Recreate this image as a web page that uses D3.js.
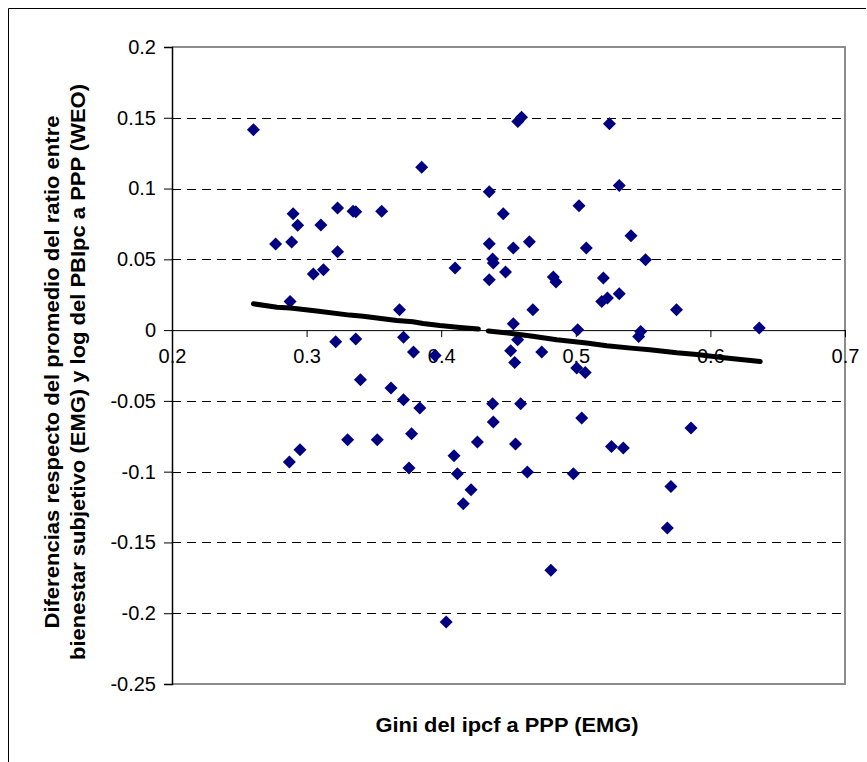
<!DOCTYPE html>
<html>
<head>
<meta charset="utf-8">
<script src="https://cdn.jsdelivr.net/npm/d3@7"></script>
<style>
  html, body { margin: 0; padding: 0; background: #fff; }
  svg { display: block; }
  text { font-family: Arial, "Liberation Sans", sans-serif; }
</style>
</head>
<body>
<div id="chart"></div>
<script>
// ---- data ----
const giniX = [
  0.2605, 0.277, 0.2889, 0.290, 0.2934, 0.2877, 0.2872, 0.2951, 0.305, 0.3125,
  0.3106, 0.323, 0.323, 0.3216, 0.3305, 0.3345, 0.3365, 0.3365, 0.340, 0.3558,
  0.3525, 0.3627, 0.369, 0.372, 0.372, 0.3794, 0.378, 0.3761, 0.3841, 0.3855,
  0.3955, 0.4103, 0.4095, 0.412, 0.4164, 0.4222, 0.4037, 0.4269, 0.4357, 0.4357,
  0.4357, 0.4382, 0.4387, 0.4382, 0.4387, 0.4461, 0.4478, 0.4536, 0.4536, 0.4516,
  0.4568, 0.4546, 0.4552, 0.459, 0.4569, 0.4597, 0.4655, 0.464, 0.4681, 0.4747,
  0.4833, 0.4853, 0.4815, 0.4982, 0.5014, 0.5007, 0.507, 0.5024, 0.5044, 0.5078,
  0.5193, 0.5205, 0.5235, 0.525, 0.5265, 0.5323, 0.5323, 0.5353, 0.541, 0.5467,
  0.5482, 0.5518, 0.5748, 0.5856, 0.568, 0.5707, 0.6363
];
const diffY = [
  0.1416, 0.0608, 0.0622, 0.0822, 0.0740, 0.0203, -0.0932, -0.0845, 0.0396, 0.0427,
  0.0742, 0.0863, 0.0554, -0.0082, -0.0774, 0.0839, 0.0836, -0.0063, -0.035, 0.0839,
  -0.0774, -0.0409, 0.0144, -0.0051, -0.0492, -0.0155, -0.0732, -0.0974, -0.055, 0.115,
  -0.018, 0.0439, -0.0887, -0.1015, -0.1226, -0.1127, -0.2062, -0.079, 0.0978, 0.061,
  0.0356, 0.0502, 0.0474, -0.052, -0.0649, 0.0822, 0.041, 0.058, 0.0045, -0.0146,
  -0.0068, -0.0228, -0.0805, -0.052, 0.1474, 0.1503, 0.0624, -0.1003, 0.0144, -0.0155,
  0.0375, 0.034, -0.1697, -0.1015, 0.0003, -0.0268, -0.0299, 0.0879, -0.0621, 0.058,
  0.0203, 0.0368, 0.0227, 0.1458, -0.0822, 0.1022, 0.0257, -0.0833, 0.0667, -0.0045,
  -0.0009, 0.0497, 0.0144, -0.0692, -0.1398, -0.1104, 0.0015
];
// trend line (two pieces, gap in the reference)
const trendX1 = [0.2605, 0.278, 0.288, 0.3075, 0.332, 0.342, 0.367, 0.379, 0.3865, 0.399, 0.414, 0.4276];
const trendY1 = [0.0186, 0.0162, 0.0156, 0.0135, 0.0106, 0.0098, 0.0068, 0.0059, 0.0047, 0.0032, 0.0019, 0.0008];
const trendX2 = [0.435, 0.4536, 0.468, 0.4858, 0.508, 0.523, 0.543, 0.555, 0.575, 0.59, 0.61, 0.637];
const trendY2 = [-0.0006, -0.0025, -0.0044, -0.0068, -0.0091, -0.011, -0.0129, -0.0138, -0.016, -0.0172, -0.0195, -0.0221];

const xTicks = [0.2, 0.3, 0.4, 0.5, 0.6, 0.7];
const xTickLabels = ["0.2", "0.3", "0.4", "0.5", "0.6", "0.7"];
const yTicks = [0.2, 0.15, 0.1, 0.05, 0, -0.05, -0.1, -0.15, -0.2, -0.25];
const yTickLabels = ["0.2", "0.15", "0.1", "0.05", "0", "-0.05", "-0.1", "-0.15", "-0.2", "-0.25"];
const xTitle = "Gini del ipcf a PPP (EMG)";
const yTitleLines = ["Diferencias respecto del promedio del ratio entre",
                     "bienestar subjetivo (EMG) y log del PBIpc a PPP (WEO)"];

// ---- layout ----
const W = 867, H = 762;
const L = 172, R = 845, T = 47, B = 684;

const svg = d3.select("#chart").append("svg").attr("width", W).attr("height", H);

// outer chart border
svg.append("path")
  .attr("d", `M8.5,${H + 2} L8.5,8.5 L866,8.5`)
  .attr("fill", "none").attr("stroke", "#000").attr("stroke-width", 1);

const x = d3.scaleLinear().domain([0.2, 0.7]).range([L, R]);
const y = d3.scaleLinear().domain([-0.25, 0.2]).range([B, T]);

// gridlines (dashed) except top/bottom
const grid = yTicks.filter(v => v !== 0.2 && v !== -0.25 && v !== 0);
svg.append("g").selectAll("line").data(grid).join("line")
  .attr("x1", L).attr("x2", R)
  .attr("y1", d => Math.round(y(d)) + 0.5).attr("y2", d => Math.round(y(d)) + 0.5)
  .attr("stroke", "#000").attr("stroke-width", 1).attr("stroke-dasharray", "9,6");

// plot frame top/right/bottom in gray
svg.append("path")
  .attr("d", `M${L},${T} L${R},${T} L${R},${B} L${L},${B}`)
  .attr("fill", "none").attr("stroke", "#8c8c8c").attr("stroke-width", 2);

// y axis
const yAxis = d3.axisLeft(y).tickValues(yTicks).tickSize(8).tickPadding(8)
  .tickFormat((d, i) => yTickLabels[i]);
const gy = svg.append("g").attr("transform", `translate(${L},0)`).call(yAxis);
gy.select(".domain").attr("stroke", "#000").attr("stroke-width", 1.5);
gy.selectAll(".tick line").attr("stroke", "#000");
gy.selectAll(".tick text").attr("font-size", 20).attr("fill", "#000")
  .attr("font-family", "Arial, 'Liberation Sans', sans-serif");

// x axis at y = 0
const xAxis = d3.axisBottom(x).tickValues(xTicks).tickSize(7).tickPadding(12)
  .tickFormat((d, i) => xTickLabels[i]);
const gx = svg.append("g").attr("transform", `translate(0,${y(0)})`).call(xAxis);
gx.select(".domain").attr("stroke", "#000").attr("stroke-width", 1);
gx.selectAll(".tick line").attr("stroke", "#000");
gx.selectAll(".tick text").attr("font-size", 20).attr("fill", "#000")
  .attr("font-family", "Arial, 'Liberation Sans', sans-serif");

// points (diamonds)
const pts = giniX.map((gv, i) => ({ gx: gv, dy: diffY[i] }));
const r = 6.5;
svg.append("g").selectAll("path").data(pts).join("path")
  .attr("transform", d => `translate(${x(d.gx)},${y(d.dy)})`)
  .attr("d", `M0,${-r} L${r},0 L0,${r} L${-r},0 Z`)
  .attr("fill", "#000080");

// trend line
const line = d3.line().x(d => x(d[0])).y(d => y(d[1]));
[[trendX1, trendY1], [trendX2, trendY2]].forEach(([tx, ty]) => {
  svg.append("path")
    .datum(tx.map((v, i) => [v, ty[i]]))
    .attr("d", line)
    .attr("fill", "none").attr("stroke", "#000").attr("stroke-width", 5)
    .attr("stroke-linecap", "round").attr("stroke-linejoin", "round");
});

// x title
svg.append("text")
  .attr("x", 507).attr("y", 732)
  .attr("text-anchor", "middle")
  .attr("font-size", 21).attr("font-weight", "bold")
  .attr("textLength", 263).attr("lengthAdjust", "spacingAndGlyphs")
  .text(xTitle);

// y title (two lines, rotated)
const yT = svg.append("g").attr("transform", `translate(0,372) rotate(-90)`);
yT.append("text").attr("x", 0).attr("y", 59)
  .attr("text-anchor", "middle").attr("font-size", 20).attr("font-weight", "bold")
  .attr("textLength", 513).attr("lengthAdjust", "spacingAndGlyphs")
  .text(yTitleLines[0]);
yT.append("text").attr("x", 0).attr("y", 85)
  .attr("text-anchor", "middle").attr("font-size", 20).attr("font-weight", "bold")
  .attr("textLength", 576).attr("lengthAdjust", "spacingAndGlyphs")
  .text(yTitleLines[1]);
</script>
</body>
</html>
